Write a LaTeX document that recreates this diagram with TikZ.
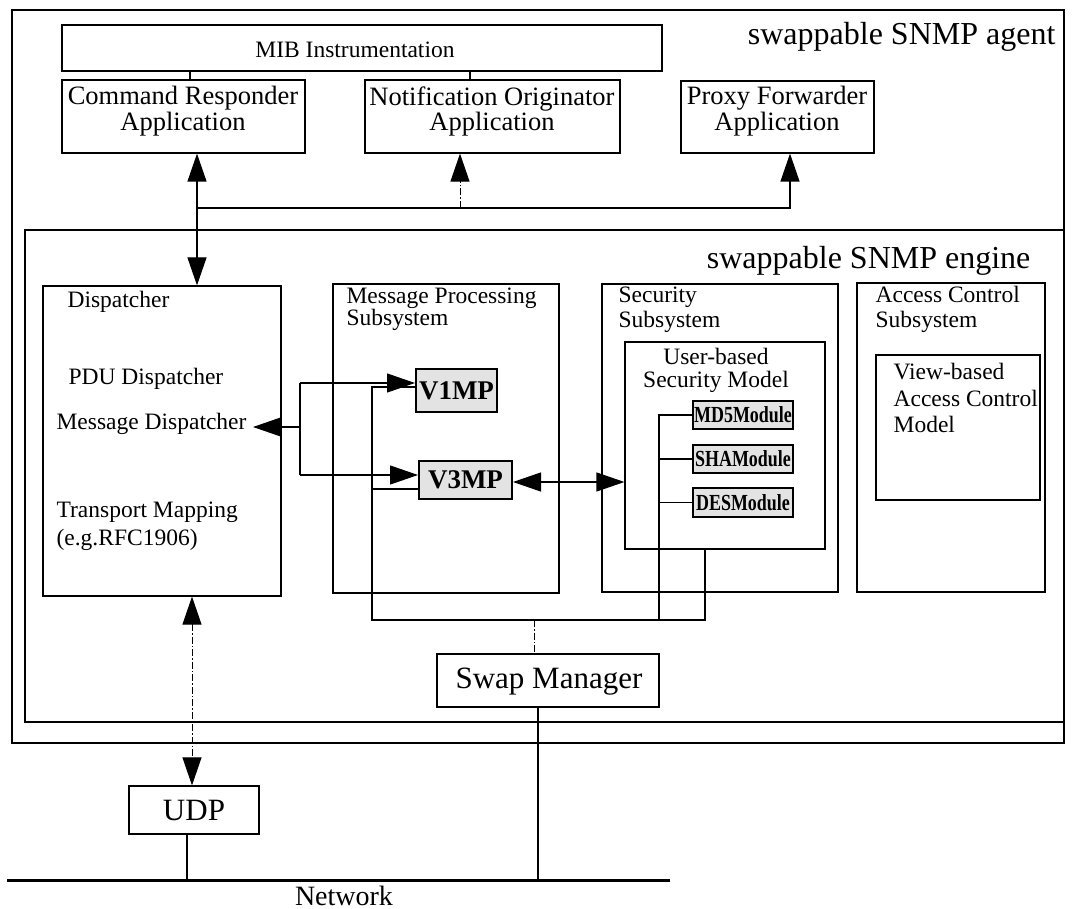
\documentclass[tikz,border=0pt]{standalone}
\usepackage{fontspec}
\setmainfont{Liberation Serif}
\usepackage{graphicx}
\usetikzlibrary{arrows.meta,fit}

\begin{document}
\begin{tikzpicture}[x=1pt,y=-1pt,
  line width=1.2pt,
  >={Triangle[length=28pt,width=19pt]},
  box/.style={draw, inner sep=0pt, line width=1.2pt},
  modbox/.style={draw, inner sep=0pt, line width=2pt, fill=gray!22},
  small/.style={font=\fontsize{23.5}{24}\selectfont, inner sep=0pt},
  app/.style={font=\fontsize{26.5}{24}\selectfont, align=center, inner sep=0pt},
  big/.style={font=\fontsize{31}{31}\selectfont, inner sep=0pt},
  heading/.style={font=\fontsize{32}{32}\selectfont, inner sep=0pt},
  mpname/.style={font=\fontsize{27}{27}\selectfont\bfseries, inner sep=0pt},
  modname/.style={font=\fontsize{23}{23}\selectfont\bfseries, inner sep=0pt},
  lite/.style={dash pattern=on 7pt off 2pt on 1.5pt off 2pt, line width=1pt},
]
\useasboundingbox (0,0) rectangle (1074,909);

% ---- agent frame and its applications ----
\node[box, fit={(12,10)(1064,743)}] (agent) {};
\node[heading, anchor=base east] (agentlbl) at (1056,45) {swappable SNMP agent};

\node[box, fit={(62,25)(662,71)}] (mib) {};
\node[small, anchor=base] (miblbl) at (355,58) {MIB Instrumentation};

\node[box, fit={(62,80)(305,153)}] (cra) {};
\node[app, anchor=north] (cralbl) at (183,86) {Command Responder\\Application};
\node[box, fit={(365,80)(620,153)}] (noa) {};
\node[app, anchor=north] (noalbl) at (492,86) {Notification Originator\\Application};
\node[box, fit={(681,81)(874,153)}] (pfa) {};
\node[app, anchor=north] (pfalbl) at (777,86) {Proxy Forwarder\\Application};

% ---- engine ----
\node[box, fit={(25,230)(1064,722)}] (engine) {};
\node[heading, anchor=base east] (enginelbl) at (1031,269) {swappable SNMP engine};

% dispatcher
\node[box, fit={(43,286)(281,596)}] (disp) {};
\node[small, anchor=west] (displbl) at (67,302) {Dispatcher};
\node[small, anchor=west] (pdulbl) at (68,379) {PDU Dispatcher};
\node[small, anchor=west] (msglbl) at (56,424) {Message Dispatcher};
\node[small, anchor=north west, align=left, font=\fontsize{23.5}{28}\selectfont] (tmlbl) at (56,501) {Transport Mapping\\(e.g.RFC1906)};

% message processing subsystem
\node[box, fit={(333,284)(559,593)}] (mps) {};
\node[small, anchor=north west, align=left, font=\fontsize{23.5}{22}\selectfont] (mpslbl) at (346,287) {Message Processing\\Subsystem};
\node[modbox, fit={(416,369)(497,412)}] (v1mp) {};
\node[mpname] at (v1mp.center) {V1MP};
\node[modbox, fit={(419,461)(512,499)}] (v3mp) {};
\node[mpname] at (v3mp.center) {V3MP};

% security subsystem
\node[box, fit={(602,284)(838,592)}] (sec) {};
\node[small, anchor=north west, align=left, font=\fontsize{23.5}{25}\selectfont] (seclbl) at (618,286) {Security\\Subsystem};
\node[box, fit={(625,342)(825,549)}] (usm) {};
\node[small, anchor=north, align=center, font=\fontsize{23.5}{23}\selectfont] (usmlbl) at (716,348) {User-based\\Security Model};
\node[modbox, fit={(693,401)(793,429)}] (md5) {};
\node[modname] at (md5.center) {\scalebox{0.78}[1]{MD5Module}};
\node[modbox, fit={(693,445)(793,473)}] (sha) {};
\node[modname] at (sha.center) {\scalebox{0.78}[1]{SHAModule}};
\node[modbox, fit={(693,488)(793,517)}] (des) {};
\node[modname] at (des.center) {\scalebox{0.78}[1]{DESModule}};

% access control subsystem
\node[box, fit={(857,283)(1045,592)}] (acs) {};
\node[small, anchor=north west, align=left, font=\fontsize{23.5}{25}\selectfont] (acslbl) at (875,286) {Access Control\\Subsystem};
\node[box, fit={(876,355)(1040,500)}] (vacm) {};
\node[small, anchor=north west, align=left, font=\fontsize{23.5}{26.5}\selectfont] (vacmlbl) at (893,363) {View-based\\Access Control\\Model};

% swap manager, transport and network
\node[box, fit={(437,654)(659,707)}] (swap) {};
\node[big, anchor=base] (swaplbl) at (549,688) {Swap Manager};
\node[box, fit={(129,786)(259,834)}] (udp) {};
\node[big, anchor=base] (udplbl) at (194,820) {UDP};
\coordinate (netL) at (7,880);
\coordinate (netR) at (670,880);
\draw[line width=3pt] (netL) -- (netR);
\node[big, anchor=base, font=\fontsize{28}{28}\selectfont] (netlbl) at (344,905) {Network};

% ---- connectors ----
% MIB to applications
\coordinate (xm1) at (190,0);
\coordinate (xm2) at (470,0);
\draw (mib.south -| xm1) -- (cra.north -| xm1);
\draw (mib.south -| xm2) -- (noa.north -| xm2);

% applications to dispatcher
\coordinate (xcr) at (197,0);
\draw[<->] (cra.south -| xcr) -- (disp.north -| xcr);
\coordinate (split) at (197,208);
\coordinate (xpf) at (790,0);
\draw[->] (split) -| (pfa.south -| xpf);
\coordinate (nsplit) at (460,208);
\draw[lite,->] (nsplit) -- (noa.south -| nsplit);

% message dispatcher to the message processing models
\coordinate (mdj) at (300,427);
\coordinate (mdtip) at (253,427);
\coordinate (v1in) at (300,383);
\coordinate (v3in) at (300,475);
\draw[->] (mdj) -- (mdtip);
\draw (v1in) -- (v3in);
\draw[->] (v1in) -- (v1mp.west |- v1in);
\draw[->] (v3in) -- (v3mp.west |- v3in);

% V3MP to the user-based security model
\coordinate (sy) at (0,482);
\draw[<->] (v3mp.east |- sy) -- (usm.west |- sy);

% swap control loop
\coordinate (lx) at (372,0);
\coordinate (ly) at (0,620);
\coordinate (rx) at (705,0);
\coordinate (v1y) at (0,387);
\coordinate (v3y) at (0,489);
\draw (v1mp.west |- v1y) -- (lx |- v1y) -- (lx |- ly) -- (rx |- ly) -- (usm.south -| rx);
\draw (v3mp.west |- v3y) -- (lx |- v3y);

% module bus
\coordinate (bx) at (659,0);
\draw (md5.west) -- (md5.west -| bx) -- (bx |- ly);
\draw (sha.west) -- (sha.west -| bx);
\draw (des.west) -- (des.west -| bx);

% swap manager links
\coordinate (sx) at (534,0);
\draw[lite] (sx |- ly) -- (swap.north -| sx);
\coordinate (sx2) at (538,0);
\draw[line width=1.8pt] (swap.south -| sx2) -- (sx2 |- netL);

% dispatcher to UDP to network
\coordinate (ux) at (192,0);
\draw[lite,<->] (disp.south -| ux) -- (udp.north -| ux);
\coordinate (ux2) at (187,0);
\draw[line width=1.8pt] (udp.south -| ux2) -- (ux2 |- netL);
\end{tikzpicture}
\end{document}
